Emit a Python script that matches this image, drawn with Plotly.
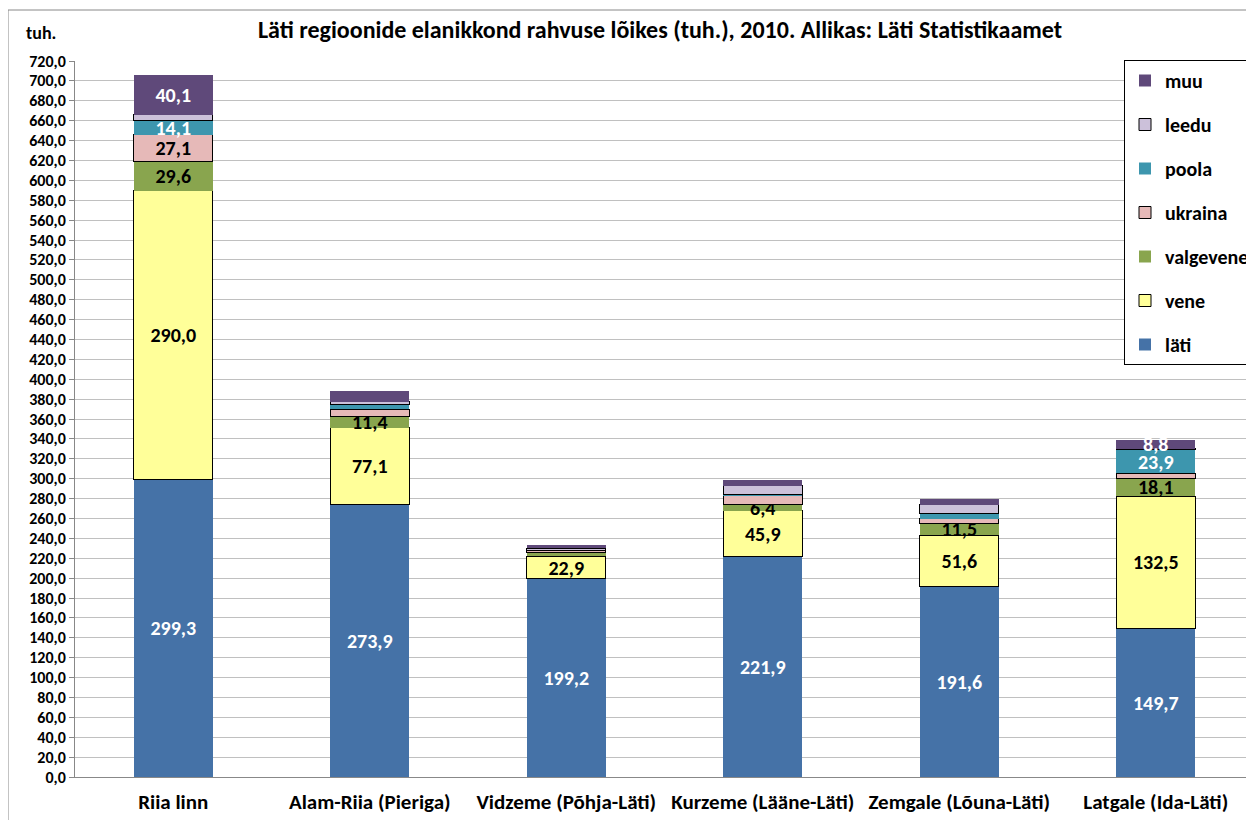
import plotly.graph_objects as go

categories = ["Riia linn", "Alam-Riia (Pieriga)", "Vidzeme (Põhja-Läti)",
              "Kurzeme (Lääne-Läti)", "Zemgale (Lõuna-Läti)", "Latgale (Ida-Läti)"]

lati = [299.3, 273.9, 199.2, 221.9, 191.6, 149.7]
vene = [290.0, 77.1, 22.9, 45.9, 51.6, 132.5]
valgevene = [29.6, 11.4, 3.2, 6.4, 11.5, 18.1]
ukraina = [27.1, 7.4, 2.0, 8.6, 5.0, 5.0]
poola = [14.1, 5.0, 0.8, 1.0, 5.0, 23.9]
leedu = [6.0, 2.5, 2.0, 9.0, 9.3, 0.8]
muu = [40.1, 10.7, 3.5, 5.7, 5.7, 8.8]

# which segments carry a value label
show_lati = [1, 1, 1, 1, 1, 1]
show_vene = [1, 1, 1, 1, 1, 1]
show_valgevene = [1, 1, 0, 1, 1, 1]
show_ukraina = [1, 0, 0, 0, 0, 0]
show_poola = [1, 0, 0, 0, 0, 1]
show_leedu = [0, 0, 0, 0, 0, 0]
show_muu = [1, 0, 0, 0, 0, 1]

y_tick_vals = list(range(0, 721, 20))
y_tick_text = [f"{v:.1f}".replace(".", ",") for v in y_tick_vals]

FONT = "Calibri, Carlito, 'Liberation Sans', Arial, sans-serif"

series = [
    ("läti", lati, show_lati, "#4572A7", "white", False),
    ("vene", vene, show_vene, "#FFFF99", "black", True),
    ("valgevene", valgevene, show_valgevene, "#89A54E", "black", False),
    ("ukraina", ukraina, show_ukraina, "#E6B9B8", "black", True),
    ("poola", poola, show_poola, "#3D96AE", "white", False),
    ("leedu", leedu, show_leedu, "#CCC1DA", "black", True),
    ("muu", muu, show_muu, "#5F497A", "white", False),
]

fig = go.Figure()
for i, (name, vals, show, color, tcolor, outline) in enumerate(series):
    txt = [f"{v:.1f}".replace(".", ",") if s else "" for v, s in zip(vals, show)]
    fig.add_trace(go.Bar(
        name=f"<b>{name}</b>", x=categories, y=vals, text=txt,
        texttemplate="<b>%{text}</b>",
        textposition="inside", insidetextanchor="middle", textangle=0,
        textfont=dict(family=FONT, size=20, color=tcolor),
        marker=dict(color=color,
                    line=dict(color="black", width=1 if outline else 0)),
        legendgroup=name, legendrank=1000 - i, hoverinfo="skip",
    ))

# page body has an 8px margin, so the figure starts at (8, 8)
W, H = 1246, 812
L, T, B = 67, 53, 43
PW, PH = W - L, H - T - B


def px_x(x):
    return (x - 8 - L) / PW


def px_y(y):
    return (H - B - (y - 8)) / PH


fig.update_layout(
    width=W, height=H,
    barmode="stack", bargap=0.6,
    paper_bgcolor="white", plot_bgcolor="white",
    margin=dict(l=L, r=0, t=T, b=B, autoexpand=False),
    font=dict(family=FONT, size=16, color="black"),
    uniformtext=dict(minsize=20, mode="show"),
    title=dict(text="<b>Läti regioonide elanikkond rahvuse lõikes (tuh.), 2010. Allikas: Läti Statistikaamet</b>",
               x=px_x(660), xanchor="center", xref="paper",
               y=1 - (30 - 8) / H, yanchor="middle",
               font=dict(family=FONT, size=24, color="black")),
    legend=dict(x=px_x(1124), xanchor="left", y=px_y(60), yanchor="top",
                traceorder="grouped", tracegroupgap=15,
                bordercolor="black", borderwidth=1, bgcolor="white",
                font=dict(family=FONT, size=20, color="black"),
                itemclick=False),
    showlegend=True,
)

fig.update_yaxes(range=[0, 720], tickvals=y_tick_vals,
                 ticktext=[f"<b>{t}</b>" for t in y_tick_text],
                 showgrid=True, gridcolor="#C0C0C0", gridwidth=1,
                 showline=True, linecolor="#888888", linewidth=1,
                 ticks="outside", ticklen=5, tickcolor="#888888",
                 tickfont=dict(family=FONT, size=16, color="black"),
                 zeroline=False)
fig.update_xaxes(showline=True, linecolor="#888888", linewidth=1,
                 tickvals=categories, ticktext=[f"<b>{c}</b>" for c in categories],
                 tickfont=dict(family=FONT, size=21, color="black"),
                 ticklabelstandoff=6)

fig.add_annotation(text="<b>tuh.</b>", xref="paper", yref="paper",
                   x=px_x(41), y=px_y(33), xanchor="center", yanchor="middle",
                   showarrow=False,
                   font=dict(family=FONT, size=18, color="black"))

# outer chart frame
fig.add_shape(type="rect", xref="paper", yref="paper",
              x0=px_x(8), x1=px_x(1300),
              y0=px_y(900), y1=px_y(10),
              line=dict(color="#888888", width=1), layer="below")

fig.write_html("out.html")
